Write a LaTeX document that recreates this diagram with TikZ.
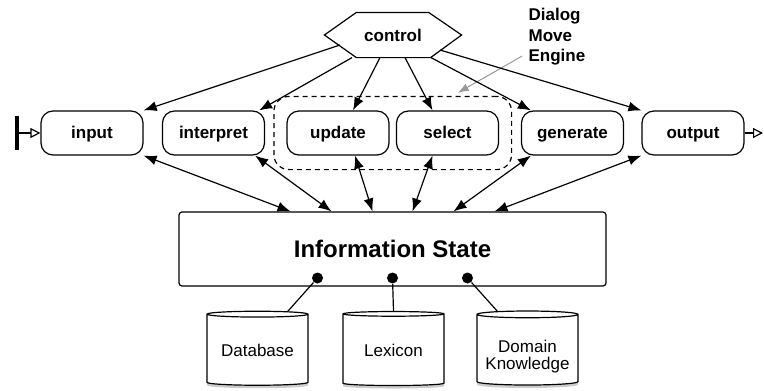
\documentclass[tikz,border=0pt]{standalone}
\usepackage{fontspec}
\setmainfont{Liberation Sans}
\usetikzlibrary{arrows.meta,shapes.geometric,shadows,fit}

\begin{document}
\begin{tikzpicture}[x=1pt,y=-1pt,line width=1.2pt,
    proc/.style={draw,rounded corners=12pt,minimum width=102pt,minimum height=44pt,
      inner sep=0pt,text height=14pt,text depth=4pt,font=\fontsize{17}{20}\selectfont\bfseries},
    ctrl/.style={-{Latex[length=13pt,width=10pt]}},
    share/.style={{Latex[length=13pt,width=10pt]}-{Latex[length=13pt,width=10pt]}},
    store/.style={cylinder,shape border rotate=90,aspect=0.08,draw,fill=white,
      minimum width=101pt,minimum height=74pt,inner sep=0pt,align=center,
      font=\fontsize{17}{19}\selectfont,
      drop shadow={opacity=0.4,shadow xshift=0pt,shadow yshift=-3pt}},
    plug/.style={circle,fill,inner sep=0pt,minimum size=11pt}]
  \useasboundingbox (0,0) rectangle (764,391);
  % the modules in a row
  \node[proc] (input) at (92,133) {input};
  \node[proc] (interpret) at (213.5,133) {interpret};
  \node[proc] (update) at (338,133) {update};
  \node[proc] (select) at (447.5,133) {select};
  \node[proc] (generate) at (572.5,133) {generate};
  \node[proc] (output) at (693,133) {output};
  \node[draw,dashed,dash pattern=on 5pt off 4pt,rounded corners=15pt,fit=(update)(select),
    inner xsep=12.5pt,inner ysep=14pt] (dme) {};
  % control hexagon
  \node[minimum width=136pt,minimum height=44pt,inner sep=0pt,
    font=\fontsize{17}{20}\selectfont\bfseries] (control) at (393,35) {control};
  \draw (control.west) -- ([xshift=32pt]control.north west) -- ([xshift=-33pt]control.north east)
    -- (control.east) -- ([xshift=-31pt]control.south east) -- ([xshift=32pt]control.south west) -- cycle;
  \node[anchor=north west,inner sep=0pt,align=left,
    font=\fontsize{17}{20.5}\selectfont\bfseries] (dmelabel) at (528,8) {Dialog\\Move\\Engine};
  \draw[gray!80,line width=1pt,-{Latex[length=11pt,width=8pt]}]
    ([shift={(-6,-10)}]dmelabel.south west) -- ([shift={(65,-3)}]dme.north);
  % information state and resources
  \node[draw,rounded corners=3pt,minimum width=427pt,minimum height=74pt,
    font=\fontsize{24}{28}\selectfont\bfseries] (info) at (392.5,249) {Information State};
  \node[plug] (p1) at ([shift={(-75,29)}]info.center) {};
  \node[plug] (p2) at ([shift={(0,29)}]info.center) {};
  \node[plug] (p3) at ([shift={(75,29)}]info.center) {};
  \node[store] (db) at (257.5,350) {Database};
  \node[store] (lex) at (393.5,350) {Lexicon};
  \node[store] (dk) at (527.5,350)
    {\raisebox{-12pt}[0pt][0pt]{\begin{tabular}{@{}c@{}}Domain\\[-2pt]Knowledge\end{tabular}}};
  \draw (p1) -- ([shift={(30,1)}]db.north);
  \draw (p2) -- (lex.north);
  \draw (p3) -- ([shift={(-30,1)}]dk.north);
  % control flow
  \draw[ctrl] ([shift={(-53,10)}]control.center) -- (input.north east);
  \draw[ctrl] ([xshift=-41pt]control.south) -- ([xshift=-6pt]interpret.north east);
  \draw[ctrl] ([xshift=-13pt]control.south) -- ([xshift=15pt]update.north);
  \draw[ctrl] ([xshift=12pt]control.south) -- ([xshift=-15pt]select.north);
  \draw[ctrl] ([xshift=38pt]control.south) -- ([xshift=10pt]generate.north west);
  \draw[ctrl] ([shift={(47,15)}]control.center) -- (output.north west);
  % access to the information state
  \draw[share] (input.south east) -- ([xshift=-102pt]info.north);
  \draw[share] ([xshift=-10pt]interpret.south east) -- ([xshift=-61pt]info.north);
  \draw[share] ([xshift=17pt]update.south) -- ([xshift=-20pt]info.north);
  \draw[share] ([xshift=-15pt]select.south) -- ([xshift=20pt]info.north);
  \draw[share] ([xshift=10pt]generate.south west) -- ([xshift=61pt]info.north);
  \draw[share] (output.south west) -- ([xshift=102pt]info.north);
  % in and out
  \coordinate (start) at (15,133);
  \coordinate (stop) at (763,133);
  \draw[{Bar[width=34pt,line width=3.5pt]}-{Triangle[open,length=10pt,width=10pt,fill=white]}]
    (start) -- (input.west);
  \draw[-{Triangle[open,length=10pt,width=10pt,fill=white]}] (output.east) -- (stop);
\end{tikzpicture}
\end{document}
